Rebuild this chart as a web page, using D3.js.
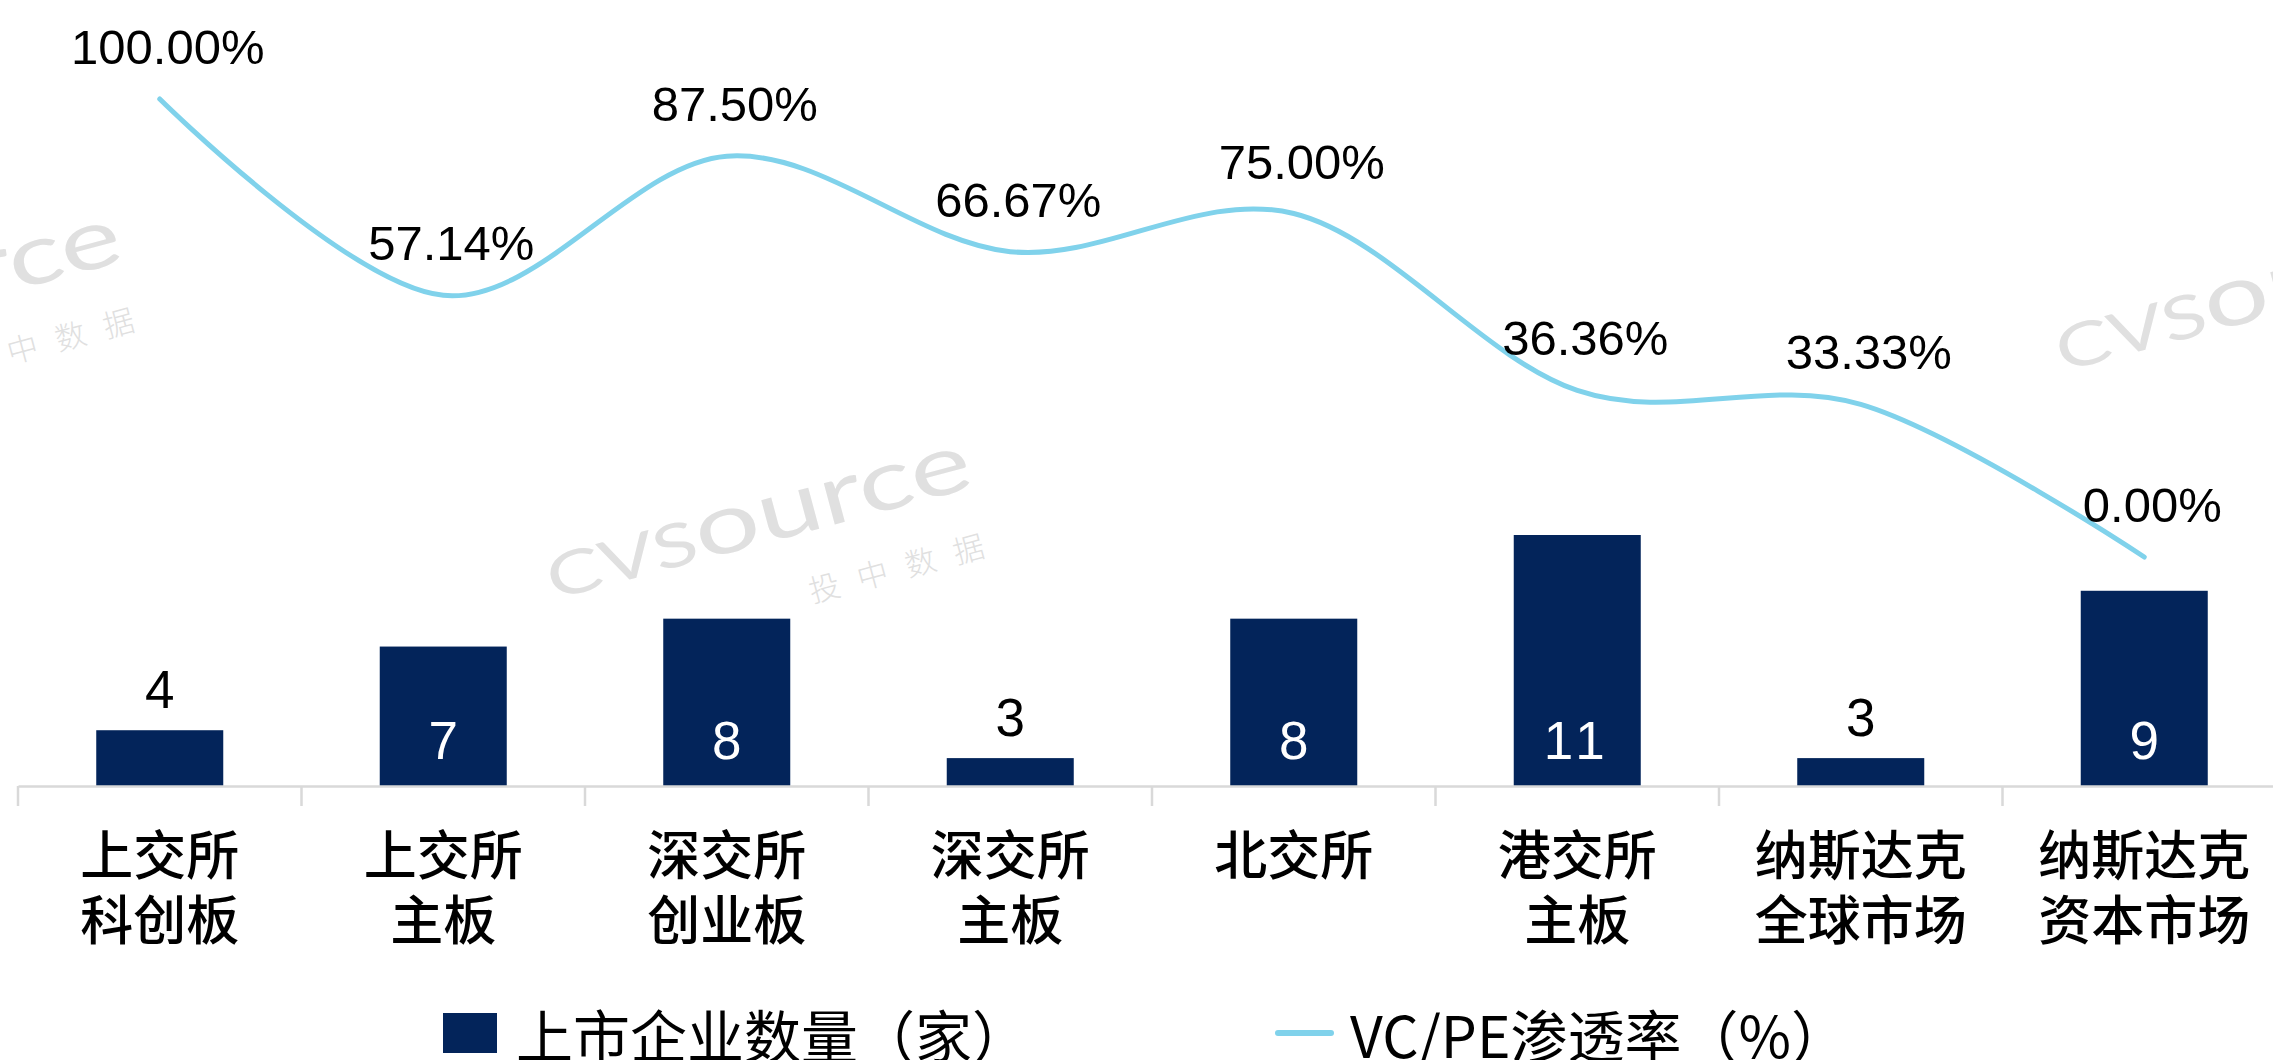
<!DOCTYPE html>
<html>
<head>
<meta charset="utf-8">
<script src="https://cdn.jsdelivr.net/npm/d3@7"></script>
<style>
  html, body { margin: 0; padding: 0; background: #ffffff; }
  svg { display: block; }
</style>
</head>
<body>
<div id="chart"></div>
<script>
// ---------- data ----------
const categories = ["上交所\n科创板", "上交所\n主板", "深交所\n创业板", "深交所\n主板", "北交所", "港交所\n主板", "纳斯达克\n全球市场", "纳斯达克\n资本市场"];
const listedCompanies = [4, 7, 8, 3, 8, 11, 3, 9];
const vcpePenetration = [100.00, 57.14, 87.50, 66.67, 75.00, 36.36, 33.33, 0.00];
const seriesNames = ["上市企业数量（家）", "VC/PE渗透率（%）"];

// ---------- layout ----------
const W = 2273, H = 1060;
const barColor = "#03245A";
const lineColor = "#80D2EB";
const wmColor = "#e0e0e0";

const svg = d3.select("#chart").append("svg")
  .attr("width", W).attr("height", H)
  .attr("viewBox", `0 0 ${W} ${H}`);

// watermarks (behind everything)
function watermark(tx, ty) {
  const g = svg.append("g").attr("transform", `translate(${tx},${ty}) rotate(-15)`);
  const t = g.append("text")
    .attr("x", 0).attr("y", 0)
    .attr("font-family", "Lato, 'DejaVu Sans', sans-serif")
    .attr("font-weight", 400)
    .attr("textLength", 438)
    .attr("lengthAdjust", "spacingAndGlyphs")
    .attr("fill", wmColor);
  t.append("tspan").attr("font-size", 60).text("CVS");
  t.append("tspan").attr("font-size", 84).text("ource");
  g.append("text")
    .attr("x", 250).attr("y", 70)
    .attr("font-family", "'Noto Sans CJK SC', sans-serif")
    .attr("font-weight", 300)
    .attr("font-size", 31)
    .attr("textLength", 180)
    .attr("lengthAdjust", "spacing")
    .attr("fill", wmColor)
    .text("投中数据");
}
watermark(-297, 374);
watermark(553, 600);
watermark(2062, 372);

// scales
const x = d3.scaleBand().domain(categories).range([18, 2286]).padding(0);
const barW = x.bandwidth() * 0.448;
const cx = d => x(d) + x.bandwidth() / 2;

const yBar = d3.scaleLinear().domain([2, 11]).range([786, 535]);
const yLine = d3.scaleLinear().domain([0, 100]).range([557, 99]);
const baseY = yBar(2);

// bars
svg.append("g").selectAll("rect")
  .data(categories)
  .join("rect")
  .attr("x", (d) => cx(d) - barW / 2)
  .attr("y", (d, i) => yBar(listedCompanies[i]))
  .attr("width", barW)
  .attr("height", (d, i) => baseY - yBar(listedCompanies[i]))
  .attr("fill", barColor);

// x axis
const axis = d3.axisBottom(x).tickSize(0).tickFormat("");
const axG = svg.append("g").attr("transform", `translate(0,${baseY})`).call(axis);
axG.select(".domain").attr("stroke", "#d9d9d9").attr("stroke-width", 2.5);
// category boundary ticks
const boundaries = categories.map(d => x(d));
axG.selectAll("line.bound")
  .data(boundaries)
  .join("line")
  .attr("class", "bound")
  .attr("x1", d => d).attr("x2", d => d)
  .attr("y1", 0).attr("y2", 20)
  .attr("stroke", "#d9d9d9").attr("stroke-width", 2.5);

// category labels (one text element per line)
const catG = svg.append("g");
categories.forEach((c, i) => {
  c.split("\n").forEach((ln, k) => {
    catG.append("text")
      .attr("text-anchor", "middle")
      .attr("font-family", "'Noto Sans CJK SC', sans-serif")
      .attr("font-weight", 500)
      .attr("font-size", 53)
      .attr("fill", "#000")
      .attr("x", cx(c))
      .attr("y", 852 + k * 65)
      .attr("dominant-baseline", "central")
      .text(ln);
  });
});

// bar value labels
svg.append("g").selectAll("text")
  .data(categories)
  .join("text")
  .attr("text-anchor", "middle")
  .attr("font-family", "'Liberation Sans', Arial, sans-serif")
  .attr("font-size", 53)
  .each(function (d, i) {
    const v = listedCompanies[i];
    const top = yBar(v);
    const inside = (baseY - top) > 80;
    d3.select(this)
      .attr("x", cx(d))
      .attr("y", inside ? baseY - 27 : top - 22)
      .attr("fill", inside ? "#ffffff" : "#000000")
      .attr("letter-spacing", v >= 10 ? 6 : 0)
      .text(v);
  });

// line
const line = d3.line()
  .x((d, i) => cx(categories[i]))
  .y(d => yLine(d))
  .curve(d3.curveCardinal.tension(0));

svg.append("path")
  .datum(vcpePenetration)
  .attr("d", line)
  .attr("fill", "none")
  .attr("stroke", lineColor)
  .attr("stroke-width", 5)
  .attr("stroke-linecap", "round");

// line labels
svg.append("g").selectAll("text")
  .data(vcpePenetration)
  .join("text")
  .attr("text-anchor", "middle")
  .attr("font-family", "'Liberation Sans', Arial, sans-serif")
  .attr("font-size", 49)
  .attr("fill", "#000")
  .attr("x", (d, i) => cx(categories[i]) + 8)
  .attr("y", d => yLine(d) - 35)
  .text(d => d3.format(".2f")(d) + "%");

// legend
const leg = svg.append("g");
leg.append("rect")
  .attr("x", 443).attr("y", 1013)
  .attr("width", 54).attr("height", 40)
  .attr("fill", barColor);
leg.append("text")
  .attr("x", 516).attr("y", 1033)
  .attr("dominant-baseline", "central")
  .attr("font-family", "'Noto Sans CJK SC', sans-serif")
  .attr("font-size", 57)
  .attr("fill", "#000")
  .text(seriesNames[0]);
leg.append("line")
  .attr("x1", 1278).attr("x2", 1331)
  .attr("y1", 1033).attr("y2", 1033)
  .attr("stroke", lineColor)
  .attr("stroke-width", 6)
  .attr("stroke-linecap", "round");
leg.append("text")
  .attr("x", 1350).attr("y", 1033)
  .attr("dominant-baseline", "central")
  .attr("font-family", "'Noto Sans CJK SC', sans-serif")
  .attr("font-size", 57)
  .attr("fill", "#000")
  .text(seriesNames[1]);
</script>
</body>
</html>
